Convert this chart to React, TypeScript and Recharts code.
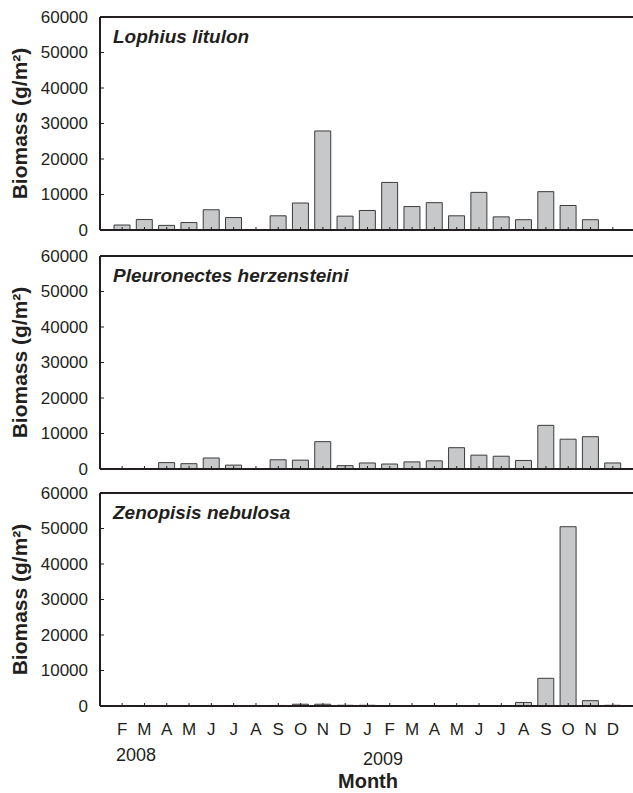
import React from "react";
import { BarChart, Bar, XAxis, YAxis, ReferenceLine, Label } from "recharts";

// Feb 2008 .. Dec 2009
const monthKeys = [
  "2008-02", "2008-03", "2008-04", "2008-05", "2008-06", "2008-07", "2008-08",
  "2008-09", "2008-10", "2008-11", "2008-12", "2009-01", "2009-02", "2009-03",
  "2009-04", "2009-05", "2009-06", "2009-07", "2009-08", "2009-09", "2009-10",
  "2009-11", "2009-12",
];
const monthLabels = [
  "F", "M", "A", "M", "J", "J", "A", "S", "O", "N", "D",
  "J", "F", "M", "A", "M", "J", "J", "A", "S", "O", "N", "D",
];

const lophius = [
  1400, 2950, 1300, 2100, 5700, 3500, 0, 4000, 7600, 27900, 3900,
  5500, 13400, 6600, 7700, 4000, 10600, 3700, 2900, 10800, 6900, 2900, 0,
];
const pleuronectes = [
  0, 0, 1800, 1500, 3100, 1100, 0, 2600, 2500, 7700, 950,
  1700, 1400, 2000, 2300, 6000, 3900, 3600, 2400, 12300, 8400, 9100, 1700,
];
const zenopisis = [
  0, 0, 0, 0, 0, 0, 0, 150, 500, 500, 200,
  200, 0, 0, 0, 0, 0, 100, 1000, 7800, 50500, 1500, 200,
];

const yTicks = [0, 10000, 20000, 30000, 40000, 50000, 60000];

const ink = "#231f20";
const font = "'Liberation Sans', Arial, sans-serif";

function XTick(props: any) {
  const { x, y, payload, showLabel } = props;
  const idx = monthKeys.indexOf(payload.value);
  return (
    <g>
      <line x1={x} x2={x} y1={y} y2={y - 3} stroke={ink} strokeWidth={1} />
      {showLabel && (
        <text x={x} y={y + 23} textAnchor="middle" dominantBaseline="central"
          fontSize={17} fontFamily={font} fill={ink}>
          {monthLabels[idx]}
        </text>
      )}
    </g>
  );
}

function YTick(props: any) {
  const { x, y, payload } = props;
  return (
    <g>
      <line x1={x} x2={x + 4} y1={y} y2={y} stroke={ink} strokeWidth={1} />
      <text x={x - 12} y={y} textAnchor="end" dominantBaseline="central"
        fontSize={17} fontFamily={font} fill={ink}>
        {payload.value}
      </text>
    </g>
  );
}

function YTitle(props: any) {
  const vb = props.viewBox;
  const cx = 19;
  const cy = vb.y + vb.height / 2;
  return (
    <text x={cx} y={cy} transform={`rotate(-90 ${cx} ${cy})`} textAnchor="middle"
      dominantBaseline="central" fontSize={21} fontWeight="bold" fontFamily={font} fill={ink}>
      Biomass (g/m²)
    </text>
  );
}

function Panel({ name, values, top, showLabels }: any) {
  const data = monthKeys.map((k, i) => ({ month: k, value: values[i] }));
  const xh = showLabels ? 87 : 14;
  const SpeciesLabel = (p: any) => (
    <text x={p.viewBox.x + 13} y={p.viewBox.y + 26} fontSize={19} fontWeight="bold"
      fontStyle="italic" fontFamily={font} fill={ink}>
      {name}
    </text>
  );
  return (
    <div style={{ position: "absolute", left: 0, top }}>
      <BarChart width={660} height={230 + xh} data={data}
        margin={{ top: 17, right: 0, bottom: 0, left: 0 }}>
        <XAxis dataKey="month" interval={0} height={xh} tickSize={0} tickMargin={0}
          tickLine={false} axisLine={{ stroke: ink, strokeWidth: 2 }}
          padding={{ left: 11, right: 36 }} tick={<XTick showLabel={showLabels} />} />
        <YAxis domain={[0, 60000]} ticks={yTicks} interval={0} width={100} tickSize={0}
          tickMargin={0} tickLine={false} axisLine={{ stroke: ink, strokeWidth: 2 }}
          tick={<YTick />}>
          <Label content={<YTitle />} />
        </YAxis>
        <ReferenceLine y={60000} stroke={ink} strokeWidth={2}>
          <Label content={<SpeciesLabel />} />
        </ReferenceLine>
        <Bar dataKey="value" barSize={16} fill="#c7c8ca" stroke="#3c3c3c" strokeWidth={1}
          isAnimationActive={false} />
      </BarChart>
    </div>
  );
}

export default function App() {
  return (
    <div style={{ position: "absolute", left: 0, top: 0, width: 633, height: 793,
      overflow: "hidden", background: "#fff", fontFamily: font, color: ink }}>
      <Panel name="Lophius litulon" values={lophius} top={0} showLabels={false} />
      <Panel name="Pleuronectes herzensteini" values={pleuronectes} top={239} showLabels={false} />
      <Panel name="Zenopisis nebulosa" values={zenopisis} top={476} showLabels={true} />
      <div style={{ position: "absolute", left: 116, top: 745, fontSize: 18, lineHeight: "20px" }}>2008</div>
      <div style={{ position: "absolute", left: 363, top: 749, fontSize: 18, lineHeight: "20px" }}>2009</div>
      <div style={{ position: "absolute", left: 318, width: 100, textAlign: "center", top: 770,
        fontSize: 20, fontWeight: "bold", lineHeight: "22px" }}>Month</div>
    </div>
  );
}
